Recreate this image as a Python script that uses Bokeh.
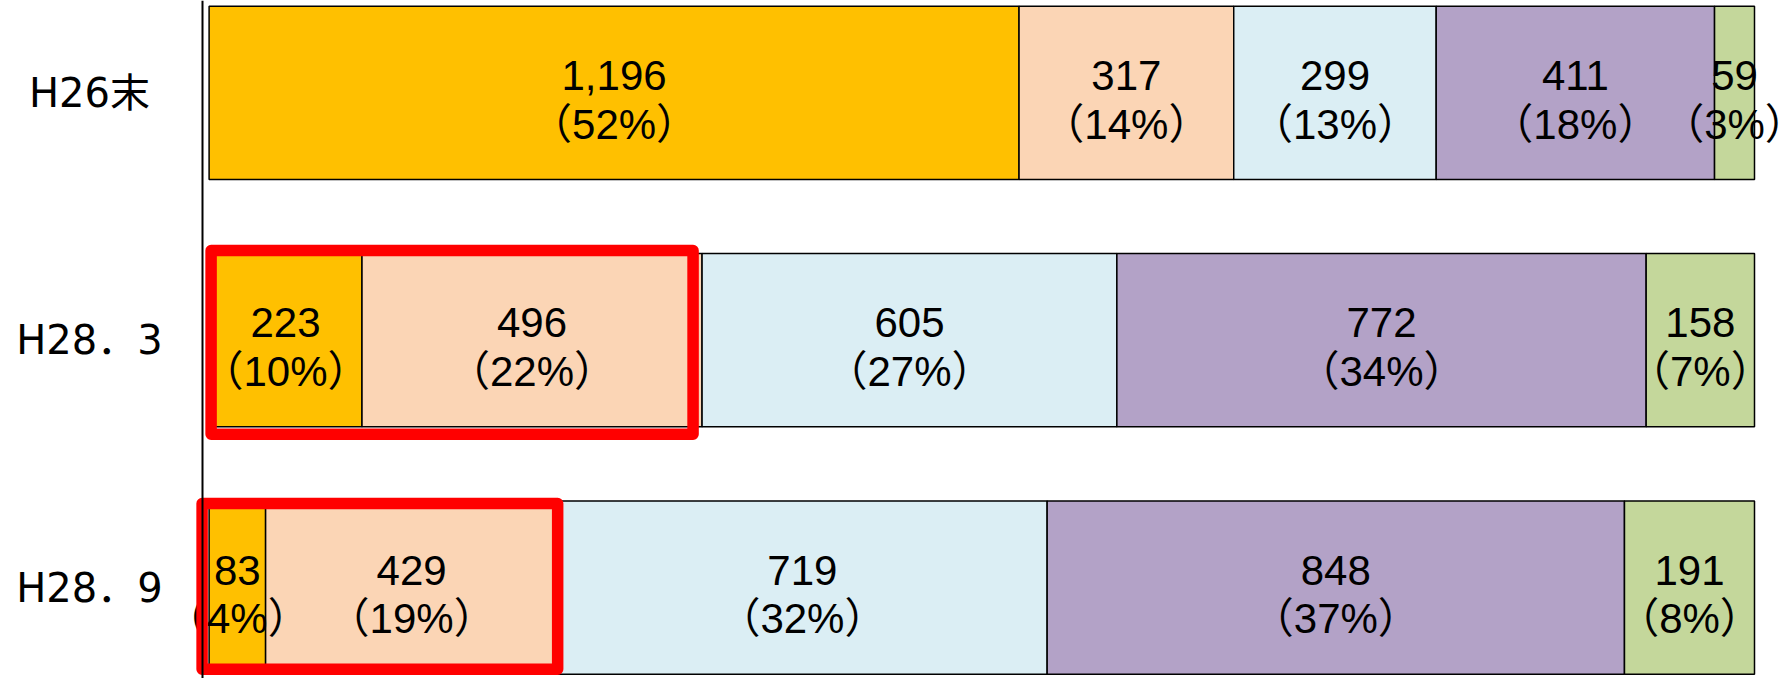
from bokeh.plotting import figure
from bokeh.models import Range1d, ColumnDataSource, Span, GlobalInlineStyleSheet
from bokeh.core.properties import value
from bokeh.embed import file_html
from bokeh.resources import INLINE

# ---- data ----
periods = ["H26末", "H28．3", "H28．9"]
seg_a = [1196, 223, 83]
seg_b = [317, 496, 429]
seg_c = [299, 605, 719]
seg_d = [411, 772, 848]
seg_e = [59, 158, 191]
pct_a = [52, 10, 4]
pct_b = [14, 22, 19]
pct_c = [13, 27, 32]
pct_d = [18, 34, 37]
pct_e = [3, 7, 8]
colors = ["#FFC000", "#FBD5B5", "#DBEEF4", "#B3A2C7", "#C4D79B"]
highlight_rows = [1, 2]

# ---- layout ----
W, H = 1787, 678
ppu = 1545.4          # pixels per 100% of bar
x0_px = 208.6         # pixel position of bar start
pitch = 247.4         # pixels between rows
first_row_px = 92.3   # pixel position of first row centre
bar_h = 0.70

x_start = -x0_px / ppu
x_end = x_start + W / ppu
y_top = -first_row_px / pitch
y_bottom = y_top + H / pitch

p = figure(width=W, height=H, output_backend="svg", toolbar_location=None,
           x_range=Range1d(x_start, x_end), y_range=Range1d(y_bottom, y_top),
           min_border=0, min_border_left=0, min_border_right=0,
           min_border_top=0, min_border_bottom=0)
p.stylesheets = [GlobalInlineStyleSheet(css="html,body{margin:0;padding:0;overflow:hidden;}")]
p.xaxis.visible = False
p.yaxis.visible = False
p.xgrid.visible = False
p.ygrid.visible = False
p.outline_line_color = None
p.background_fill_color = "white"
p.border_fill_color = "white"

segs = [seg_a, seg_b, seg_c, seg_d, seg_e]
pcts = [pct_a, pct_b, pct_c, pct_d, pct_e]

rows, lefts, rights, fills, labels, mids = [], [], [], [], [], []
cum2 = []
for r in range(len(periods)):
    total = sum(s[r] for s in segs)
    acc = 0.0
    for k, s in enumerate(segs):
        l = acc / total
        acc += s[r]
        rr = acc / total
        rows.append(r)
        lefts.append(l)
        rights.append(rr)
        mids.append((l + rr) / 2)
        fills.append(colors[k])
        labels.append(f"{s[r]:,}\n（{pcts[k][r]}%）")
        if k == 1:
            cum2.append(rr)

src = ColumnDataSource(dict(y=rows, left=lefts, right=rights, fill=fills,
                            mid=mids, label=labels))

# axis line
p.add_layout(Span(location=-6.6 / ppu, dimension="height",
                  line_color="black", line_width=2))

p.hbar(y="y", left="left", right="right", height=bar_h, source=src,
       fill_color="fill", line_color="black", line_width=1.5)

p.text(x="mid", y="y", text="label", source=src, text_align="center",
       text_baseline="middle", text_font_size="42px", y_offset=7,
       text_font=value("Liberation Sans, Noto Sans CJK JP"),
       text_color="black", text_line_height=1.03)

# category labels
p.text(x=[(89 - x0_px) / ppu] * len(periods), y=list(range(len(periods))),
       text=periods, text_align="center", text_baseline="middle",
       text_font_size="40px", text_font=value("DejaVu Sans, Noto Sans CJK JP"),
       text_color="black")

# red highlight boxes (hand-drawn look: small pixel adjustments per box)
box_pad_left = [-2, 7]
box_pad_right = [-9, 0]
box_pad_top = [3, -2.5]
box_pad_bottom = [7.5, -5]
hb = ColumnDataSource(dict(
    left=[0.0 - box_pad_left[i] / ppu for i, r in enumerate(highlight_rows)],
    right=[cum2[r] + box_pad_right[i] / ppu for i, r in enumerate(highlight_rows)],
    top=[r - bar_h / 2 - box_pad_top[i] / pitch for i, r in enumerate(highlight_rows)],
    bottom=[r + bar_h / 2 + box_pad_bottom[i] / pitch for i, r in enumerate(highlight_rows)],
))
p.quad(left="left", right="right", top="top", bottom="bottom", source=hb,
       fill_alpha=0, line_color="#FF0000", line_width=11.5, line_join="round")

open("out.html", "w").write(file_html(p, INLINE))
